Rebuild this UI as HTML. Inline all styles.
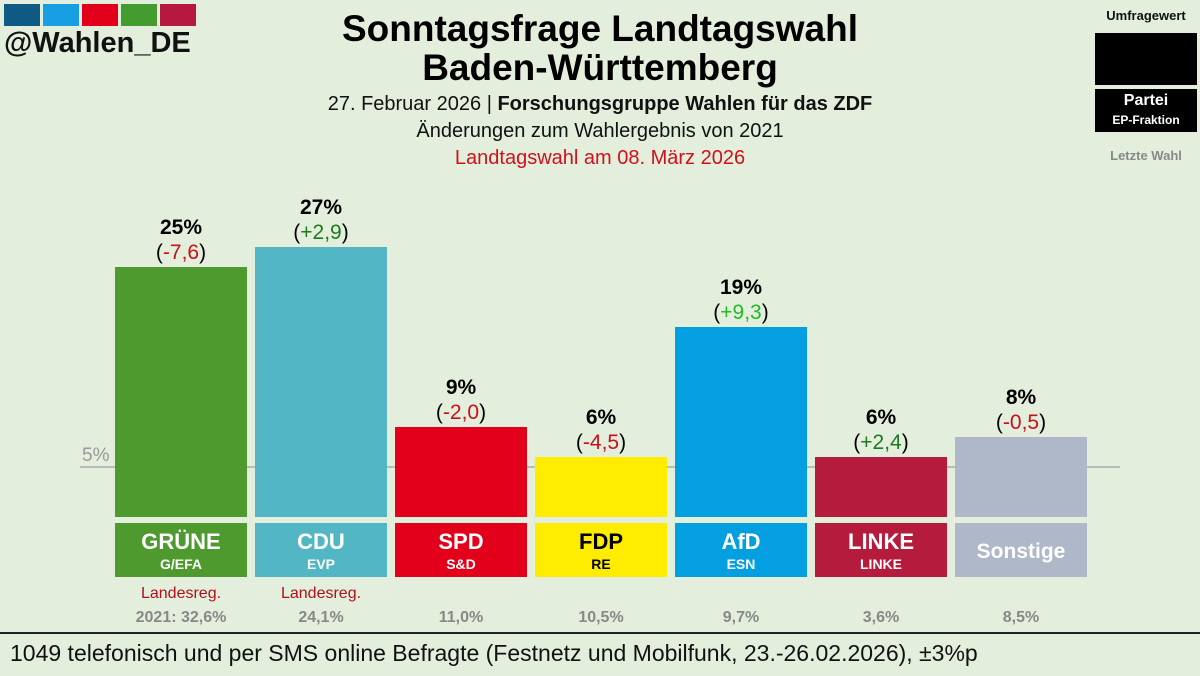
<!DOCTYPE html>
<html><head><meta charset="utf-8"><style>
body{margin:0;width:1200px;height:676px;background:#e3efdc;font-family:"Liberation Sans",sans-serif;overflow:hidden;position:relative}
.a{position:absolute}
</style></head><body>
<div class="a" style="left:4px;top:4px;">
<span class="a" style="left:0;top:0;width:36px;height:22px;background:#0e5a85"></span>
<span class="a" style="left:39px;top:0;width:36px;height:22px;background:#179ee3"></span>
<span class="a" style="left:78px;top:0;width:36px;height:22px;background:#e2001a"></span>
<span class="a" style="left:117px;top:0;width:36px;height:22px;background:#449b2f"></span>
<span class="a" style="left:156px;top:0;width:36px;height:22px;background:#b7183d"></span>
</div>
<div class="a" style="left:4px;top:27px;font-size:29px;font-weight:bold;color:#111">@Wahlen_DE</div>
<div class="a" style="left:0;width:1200px;top:9px;text-align:center;font-size:37px;font-weight:bold;line-height:39px;color:#000">Sonntagsfrage Landtagswahl<br>Baden-Württemberg</div>
<div class="a" style="left:0;width:1200px;top:91px;text-align:center;font-size:20px;line-height:27px;color:#111">27. Februar 2026 | <b>Forschungsgruppe Wahlen für das ZDF</b><br>Änderungen zum Wahlergebnis von 2021<br><span style="color:#d0101a">Landtagswahl am 08. März 2026</span></div>
<div class="a" style="left:1095px;top:8px;width:102px;text-align:center">
<div style="font-size:13px;font-weight:bold;color:#111">Umfragewert</div>
<div style="margin-top:10px;height:52px;background:#000"></div>
<div style="margin-top:4px;height:43px;background:#000;color:#fff;font-weight:bold;font-size:16px;line-height:19px;padding-top:2px;box-sizing:border-box">Partei<br><span style="font-size:12px">EP-Fraktion</span></div>
<div style="margin-top:16px;font-size:13px;font-weight:bold;color:#888">Letzte Wahl</div>
</div>
<svg class="a" style="left:0;top:0" width="1200" height="676" id="svg"></svg>
<div class="a" style="left:0;top:632px;width:1200px;height:2px;background:#222"></div>
<div class="a" style="left:10px;top:640px;font-size:23px;color:#111">1049 telefonisch und per SMS online Befragte (Festnetz und Mobilfunk, 23.-26.02.2026), ±3%p</div>
<script>
const parties=["GRÜNE","CDU","SPD","FDP","AfD","LINKE","Sonstige"];
const groups=["G/EFA","EVP","S&D","RE","ESN","LINKE",""];
const values=[25,27,9,6,19,6,8];
const changes=[-7.6,2.9,-2.0,-4.5,9.3,2.4,-0.5];
const previous=["2021: 32,6%","24,1%","11,0%","10,5%","9,7%","3,6%","8,5%"];
const gov=["Landesreg.","Landesreg.","","","","",""];
const colors=["#4e9a2e","#52b6c4","#e2001a","#ffec00","#039fe0","#b51b3c","#aeb8c8"];
const textCol=["#fff","#fff","#fff","#000","#fff","#fff","#fff"];
const svg=document.getElementById('svg');const NS='http://www.w3.org/2000/svg';
const y0=517,k=10,x=i=>115+i*140,w=132;
const Y=v=>y0-v*k;
function el(t,a,txt){const e=document.createElementNS(NS,t);for(const n in a)e.setAttribute(n,a[n]);if(txt!==undefined)e.textContent=txt;svg.appendChild(e);return e;}
const l=el('line',{x1:80,x2:1120,y1:Y(5),y2:Y(5),stroke:'#aaa','stroke-width':1.5});

const t5=el('text',{x:82,y:Y(5)-6,'font-size':19,fill:'#999','font-family':'Liberation Sans'},'5%');

const fmt=v=>(v>0?'+':'-')+Math.abs(v).toFixed(1).replace('.',',');
values.forEach((v,i)=>{
 const r=el('rect',{x:x(i),y:Y(v),width:w,height:v*k,fill:colors[i]});
 
 const cx=x(i)+w/2;
 const p=el('text',{x:cx,y:Y(v)-33,'text-anchor':'middle','font-size':21,'font-weight':'bold','font-family':'Liberation Sans'},v+'%');
 
 const c=el('text',{x:cx,y:Y(v)-8,'text-anchor':'middle','font-size':21,'font-family':'Liberation Sans'});
 
 const s1=document.createElementNS(NS,'tspan');s1.textContent='(';c.appendChild(s1);
 const s2=document.createElementNS(NS,'tspan');s2.textContent=fmt(changes[i]);s2.setAttribute('fill',changes[i]<0?'#c8101a':(changes[i]>5?'#22bb22':'#1e7a1e'));c.appendChild(s2);
 const s3=document.createElementNS(NS,'tspan');s3.textContent=')';c.appendChild(s3);
 const b=el('rect',{x:x(i),y:523,width:w,height:54,fill:colors[i]});
 
 const n=el('text',{x:cx,y:groups[i]?549:558,'text-anchor':'middle','font-size':groups[i]?22:21,'font-weight':'bold',fill:textCol[i],'font-family':'Liberation Sans'},parties[i]);
 
 if(groups[i]){const g=el('text',{x:cx,y:569,'text-anchor':'middle','font-size':14,'font-weight':'bold',fill:textCol[i],'font-family':'Liberation Sans'},groups[i]);
 }
 if(gov[i]){const gv=el('text',{x:cx,y:598,'text-anchor':'middle','font-size':16,fill:'#b01018','font-family':'Liberation Sans'},gov[i]);
 }
 const pr=el('text',{x:cx,y:622,'text-anchor':'middle','font-size':16,'font-weight':'bold',fill:'#888','font-family':'Liberation Sans'},previous[i]);
 
});
</script>
</body></html>
